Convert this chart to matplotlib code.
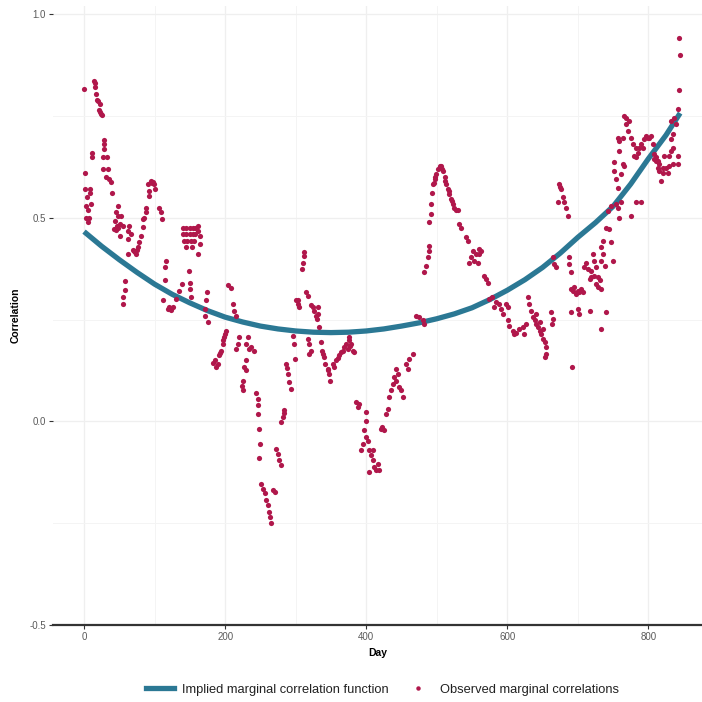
import matplotlib
matplotlib.use("Agg")
import matplotlib.pyplot as plt
from matplotlib.lines import Line2D
from matplotlib.ticker import MultipleLocator

plt.rcParams['font.family'] = ['Liberation Sans', 'DejaVu Sans']

# curva implicita
curve_day = [0, 25, 50, 75, 100, 125, 150, 175, 200, 225, 250, 275, 300, 325, 350, 375, 400, 425,
             450, 475, 500, 525, 550, 575, 600, 625, 650, 675, 700, 725, 750, 775, 800, 825, 845]
curve_corr = [0.466, 0.43, 0.397, 0.366, 0.337, 0.312, 0.291, 0.272, 0.256, 0.244, 0.234, 0.227,
              0.222, 0.219, 0.218, 0.219, 0.222, 0.227, 0.234, 0.242, 0.252, 0.264, 0.279, 0.299,
              0.322, 0.348, 0.378, 0.413, 0.452, 0.488, 0.528, 0.583, 0.645, 0.703, 0.757]

# correlaciones observadas (dia, valor)
obs_day = [
    0, 1, 2, 4, 3, 5, 7, 3, 6, 9, 8, 10, 11, 11,
    14, 16, 16, 17, 19, 20, 22, 21, 23, 24, 25,
    28, 28, 29, 27, 33, 26.5, 33.5, 31, 35.7, 38, 39,
    47.7, 44.6, 47.7, 52.4, 43.2, 50.3, 41.8, 47.7, 50.3, 55, 45.3, 46.3,
    64.3, 62, 66.6, 62, 76, 71.3, 73.7, 78.4, 62, 80.7, 83, 69, 72.8, 75,
    85.5, 88, 88, 83, 90.3, 95, 98.3, 101, 92.6, 91.7, 96.5, 99.8,
    106.8, 109, 110.6, 58.6, 58.6, 55.8, 55.8, 116, 115.3, 115.3,
    111.5, 118.6, 123.3, 125.6, 130.4, 135, 138.8, 121,
    140, 145, 150, 155, 158, 140, 145, 150, 155, 158, 141, 146, 151, 156, 144, 153,
    161, 162, 164, 165, 161, 149, 150.8, 150.8, 152,
    174, 173, 171, 175.6, 172,
    203.6, 208, 210.8, 213, 215.4,
    201, 199, 197, 194.5, 192, 185, 183, 187.7, 190, 200, 197.5, 193,
    220, 218, 215.4, 232, 229.5, 236.5, 241, 234,
    229.6, 227.3, 229.6, 225, 224, 225,
    243.8, 246, 246, 246, 248.5, 249.5, 248.5,
    251, 253.5, 256, 258, 260.5, 262, 263, 265.5, 270, 267.7,
    284, 281.5, 279, 283,
    272, 274.5, 277, 279,
    286.3, 288.6, 291, 293.5, 287.5,
    295.8, 297, 299.5,
    312, 310, 309.4, 312,
    303, 305, 301, 304, 314.7, 317,
    324, 326, 328.7, 329.7, 322,
    317, 319.6, 322, 319.6,
    331, 331, 333, 336, 338, 340.5, 341.8, 339,
    345.4, 347.8, 348.8, 346.5,
    352.5, 357, 361.8, 366.5, 371, 376, 380.7, 373.6, 378.3, 355, 359.5, 364, 369, 376, 377, 383,
    385.5, 388, 390, 399.5, 399.5, 397, 399.5, 395, 392.6, 404.4, 406.7, 409, 411.5, 413.8, 404.4,
    402, 410, 416, 418.5,
    423, 421, 425.5, 428, 430.5,
    435, 437.6, 442, 444.6, 442, 447, 449.7, 452, 440, 433,
    456.4, 459, 461, 466,
    470.6, 475, 480, 482.5,
    482.4, 484.7, 487, 488.5, 489.7,
    489.5, 492, 492,
    493.3, 494.4, 497, 499, 501.6, 504, 495.5, 498,
    506, 508.5, 511, 513, 515.6, 518, 520, 522.6, 525, 527, 529.6, 507, 512, 517, 521.6,
    532, 534, 541, 543.6, 550.7, 555.4, 560, 562.6, 546, 553, 558, 548.5, 560.3,
    567.4, 570, 572,
    574.5, 579, 584, 581.6, 588.6, 591, 593.6, 598.4, 600.6,
    600.5, 603, 607.6, 610, 612.3, 617, 622, 626.7, 624.3,
    629, 631, 633.6, 636, 638.6, 641, 643.4, 645.7, 648, 650.5, 653, 655, 655, 653, 641, 645.7, 650.5,
    662, 664.5, 663.4, 664.3, 666.7,
    673.7, 676, 678.5, 671.4, 681, 683, 685.7, 674.7,
    669, 688, 688, 690.4,
    690.4, 695, 700, 704.7, 697.6, 702, 692.6, 707,
    690.4, 700, 702, 716.6, 740, 691.7, 733,
    709, 714, 719, 723.6, 728.4, 730.7, 726, 716.6, 721.3, 723.6, 726, 733, 735.6, 733, 735.6, 738,
    747.4, 749.8, 728.4, 733, 711.5, 719,
    740, 744.7, 742.3, 747, 754, 756.5, 759, 761,
    775.3, 782.4, 789.5,
    751.7, 751.7, 754, 756.5, 761, 763.6, 766,
    756.5, 759, 759, 763.6, 768.3, 768.3, 770.7, 766, 773, 775.4, 777.7, 782.4, 784.8, 780, 782.4,
    787, 791.8, 794, 796.5, 801, 803.6, 806, 798.8, 789.5,
    810.8, 808.4, 813, 815.6, 820.3, 825, 829.7, 834.5, 815.6, 820.3, 818, 827.4, 822.6, 829.7,
    832, 834.5, 832, 834.5, 839, 836.8, 832, 841.5, 841.5, 841.5, 810.8, 813, 808.4,
    843.8, 844.7, 842.8,
]
obs_corr = [
    0.815, 0.61, 0.57, 0.55, 0.53, 0.52, 0.50, 0.50, 0.49, 0.57, 0.56, 0.535, 0.65, 0.66,
    0.837, 0.83, 0.82, 0.805, 0.79, 0.787, 0.78, 0.765, 0.76, 0.755, 0.752,
    0.69, 0.68, 0.67, 0.65, 0.65, 0.62, 0.62, 0.60, 0.595, 0.589, 0.562,
    0.529, 0.513, 0.505, 0.505, 0.493, 0.484, 0.472, 0.476, 0.456, 0.48, 0.47, 0.48,
    0.48, 0.467, 0.46, 0.448, 0.427, 0.419, 0.411, 0.44, 0.412, 0.456, 0.478, 0.42, 0.415, 0.42,
    0.50, 0.525, 0.513, 0.497, 0.583, 0.591, 0.589, 0.57, 0.566, 0.554, 0.585, 0.582,
    0.525, 0.513, 0.497, 0.344, 0.323, 0.305, 0.288, 0.395, 0.378, 0.347,
    0.297, 0.276, 0.274, 0.281, 0.30, 0.321, 0.337, 0.28,
    0.476, 0.476, 0.476, 0.476, 0.476, 0.46, 0.46, 0.46, 0.46, 0.46, 0.444, 0.444, 0.444, 0.444, 0.427, 0.427,
    0.48, 0.468, 0.456, 0.435, 0.41, 0.37, 0.341, 0.325, 0.305,
    0.317, 0.297, 0.276, 0.243, 0.26,
    0.336, 0.328, 0.288, 0.272, 0.26,
    0.223, 0.207, 0.19, 0.174, 0.162, 0.15, 0.143, 0.133, 0.14, 0.215, 0.2, 0.168,
    0.207, 0.19, 0.178, 0.207, 0.19, 0.182, 0.174, 0.178,
    0.15, 0.133, 0.125, 0.10, 0.088, 0.078,
    0.07, 0.055, 0.039, 0.019, -0.018, -0.055, -0.091,
    -0.153, -0.165, -0.177, -0.194, -0.206, -0.222, -0.234, -0.25, -0.173, -0.169,
    0.027, 0.01, -0.002, 0.02,
    -0.067, -0.079, -0.096, -0.108,
    0.141, 0.117, 0.096, 0.08, 0.13,
    0.21, 0.19, 0.154,
    0.415, 0.39, 0.374, 0.405,
    0.288, 0.28, 0.297, 0.297, 0.317, 0.309,
    0.28, 0.272, 0.26, 0.252, 0.285,
    0.203, 0.19, 0.174, 0.166,
    0.28, 0.264, 0.231, 0.194, 0.174, 0.158, 0.141, 0.166,
    0.129, 0.117, 0.10, 0.125,
    0.141, 0.15, 0.162, 0.174, 0.19, 0.199, 0.174, 0.178, 0.19, 0.133, 0.155, 0.17, 0.182, 0.207, 0.186, 0.17,
    0.047, 0.035, 0.043, 0.023, 0.002, -0.022, -0.038, -0.055, -0.071, -0.071, -0.083, -0.096, -0.112, -0.12, -0.124,
    -0.047, -0.071, -0.104, -0.12,
    -0.014, -0.018, -0.022, 0.019, 0.031,
    0.076, 0.092, 0.10, 0.117, 0.129, 0.084, 0.076, 0.06, 0.11, 0.06,
    0.141, 0.129, 0.154, 0.166,
    0.26, 0.256, 0.248, 0.24,
    0.366, 0.382, 0.403, 0.419, 0.431,
    0.489, 0.509, 0.534,
    0.562, 0.583, 0.595, 0.607, 0.619, 0.627, 0.585, 0.60,
    0.627, 0.615, 0.599, 0.583, 0.57, 0.558, 0.546, 0.534, 0.525, 0.519, 0.52, 0.62, 0.59, 0.565, 0.54,
    0.484, 0.476, 0.452, 0.442, 0.419, 0.411, 0.423, 0.419, 0.39, 0.395, 0.39, 0.403, 0.411,
    0.358, 0.35, 0.341,
    0.30, 0.305, 0.292, 0.28, 0.288, 0.276, 0.264, 0.288, 0.28,
    0.248, 0.235, 0.223, 0.215, 0.217, 0.227, 0.231, 0.24, 0.215,
    0.305, 0.288, 0.272, 0.256, 0.248, 0.24, 0.231, 0.223, 0.215, 0.203, 0.194, 0.182, 0.166, 0.158, 0.264, 0.243, 0.227,
    0.268, 0.252, 0.24, 0.403, 0.386,
    0.583, 0.57, 0.55, 0.538, 0.538, 0.525, 0.505, 0.575,
    0.378, 0.403, 0.386, 0.366,
    0.325, 0.329, 0.321, 0.325, 0.313, 0.317, 0.32, 0.317,
    0.268, 0.276, 0.264, 0.272, 0.268, 0.133, 0.227,
    0.378, 0.374, 0.354, 0.358, 0.354, 0.346, 0.337, 0.35, 0.411, 0.395, 0.378, 0.395, 0.411, 0.427, 0.444, 0.382,
    0.44, 0.395, 0.329, 0.325, 0.39, 0.37,
    0.476, 0.472, 0.517, 0.529, 0.534, 0.525, 0.50, 0.538,
    0.505, 0.538, 0.538,
    0.636, 0.615, 0.595, 0.574, 0.607, 0.632, 0.628,
    0.697, 0.689, 0.664, 0.697, 0.746, 0.73, 0.713, 0.75, 0.738, 0.697, 0.68, 0.672, 0.66, 0.652, 0.648,
    0.672, 0.672, 0.693, 0.701, 0.697, 0.701, 0.68, 0.697, 0.68,
    0.648, 0.656, 0.64, 0.632, 0.623, 0.623, 0.628, 0.632, 0.615, 0.611, 0.591, 0.611, 0.652, 0.652,
    0.664, 0.672, 0.693, 0.705, 0.73, 0.746, 0.738, 0.766, 0.632, 0.652, 0.64, 0.623, 0.644,
    0.942, 0.90, 0.813,
]

COL_LINEA = '#2B7894'
COL_PUNTO = '#B0174B'

fig = plt.figure(figsize=(7.02, 7.02), dpi=100)
ax = fig.add_axes([53 / 702, 77 / 702, 649 / 702, 619 / 702])

ax.plot(curve_day, curve_corr, color=COL_LINEA, linewidth=3.8, solid_capstyle='butt',
        solid_joinstyle='round', zorder=3)
ax.scatter(obs_day, obs_corr, s=14, color=COL_PUNTO, linewidths=0, zorder=4)

ax.set_xlim(-44, 876)
ax.set_ylim(-0.5, 1.02)
ax.xaxis.set_major_locator(MultipleLocator(200))
ax.xaxis.set_minor_locator(MultipleLocator(100))
ax.yaxis.set_major_locator(MultipleLocator(0.5))
ax.yaxis.set_minor_locator(MultipleLocator(0.25))
ax.set_yticks([-0.5, 0.0, 0.5, 1.0])
ax.set_yticklabels(['-0.5', '0.0', '0.5', '1.0'])

ax.grid(True, which='major', color='#EFEFEF', linewidth=0.9, zorder=0)
ax.grid(True, which='minor', color='#F4F4F4', linewidth=0.7, zorder=0)
ax.set_axisbelow(True)

for lado in ['top', 'right', 'left']:
    ax.spines[lado].set_visible(False)
ax.spines['bottom'].set_color('#333333')
ax.spines['bottom'].set_linewidth(1.6)

ax.tick_params(which='major', length=3, width=0.8, color='#333333', labelsize=7, labelcolor='#5A5A5A', pad=2)
ax.tick_params(which='minor', length=0)

ax.set_xlabel('Day', fontsize=7.5, fontweight='bold', labelpad=4)
ax.set_ylabel('Correlation', fontsize=7.5, fontweight='bold', labelpad=6)

handles = [
    Line2D([0], [0], color=COL_LINEA, linewidth=3.8),
    Line2D([0], [0], color=COL_PUNTO, marker='o', linestyle='None', markersize=3.2, markeredgewidth=0),
]
fig.legend(handles, ['Implied marginal correlation function', 'Observed marginal correlations'],
           loc='center', bbox_to_anchor=(0.545, 1 - 690 / 702), ncol=2, frameon=False,
           fontsize=9.3, labelcolor='#222222', handlelength=2.2, columnspacing=1.2, handletextpad=0.6)

fig.savefig('out.png', dpi=100, facecolor='white')
